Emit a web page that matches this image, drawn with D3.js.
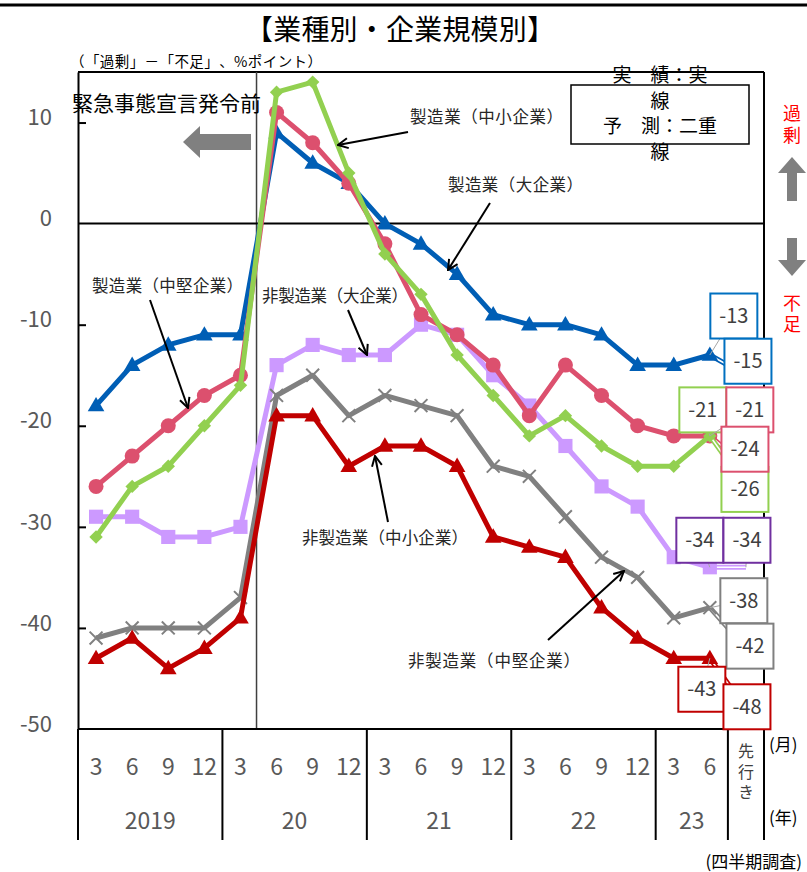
<!DOCTYPE html>
<html lang="ja">
<head>
<meta charset="utf-8">
<script src="https://cdn.jsdelivr.net/npm/d3@7/dist/d3.min.js"></script>
<style>
  html, body { margin: 0; padding: 0; background: #fff; }
  svg { display: block; font-family: "Noto Sans CJK JP", "Noto Sans", sans-serif; }
  svg text { text-spacing-trim: space-all; }
  .vert { writing-mode: vertical-rl; text-orientation: upright; }
</style>
</head>
<body>
<svg id="chart" width="807" height="872"></svg>
<script>
// 四半期（実績18期＋先行き）
const months = ["3","6","9","12","3","6","9","12","3","6","9","12","3","6","9","12","3","6"];
const quarters = months.map((m, i) => "q" + i).concat(["f"]);
const years = ["2019", "20", "21", "22", "23"];
const yearQuarters = [4, 4, 4, 4, 2];
const yTicks = [10, 0, -10, -20, -30, -40, -50];

// 業況判断DI（「過剰」－「不足」、%ポイント）：実績18期、最後は先行き
const mfgLarge    = [-18, -14, -12, -11, -11,   9,   6,   4,   0,  -2,  -5,  -9, -10, -10, -11, -14, -14, -13];
const mfgMid      = [-26, -23, -20, -17, -15,  11,   8,   4,  -2,  -9, -11, -14, -19, -14, -17, -20, -21, -21];
const mfgSmall    = [-31, -26, -24, -20, -16,  13,  14,   5,  -3,  -7, -13, -17, -21, -19, -22, -24, -24, -21];
const nonMfgLarge = [-29, -29, -31, -31, -30, -14, -12, -13, -13, -10, -11, -15, -18, -22, -26, -28, -33, -34];
const nonMfgMid   = [-41, -40, -40, -40, -37, -17, -15, -19, -17, -18, -19, -24, -25, -29, -33, -35, -39, -38];
const nonMfgSmall = [-43, -41, -44, -42, -39, -19, -19, -24, -22, -22, -24, -31, -32, -33, -38, -41, -43, -43];
const forecasts = { mfgLarge: -15, mfgMid: -24, mfgSmall: -26, nonMfgLarge: -34, nonMfgMid: -42, nonMfgSmall: -48 };

// 系列の描画スタイル（下から順に描く）。aBox/fBox は値ラベルの点からのずらし量
const series = [
  { key: "nonMfgLarge", values: nonMfgLarge, color: "#CC99FF", box: "#7030A0", marker: "square",
    aBox: [-10, -27], fBox: [1, -27] },
  { key: "nonMfgMid", values: nonMfgMid, color: "#808080", box: "#808080", marker: "cross",
    aBox: [34, -7], fBox: [4, -2] },
  { key: "nonMfgSmall", values: nonMfgSmall, color: "#C00000", box: "#C00000", marker: "triangle",
    aBox: [-8, 31], fBox: [1, -2] },
  { key: "mfgLarge", values: mfgLarge, color: "#005EB5", box: "#0070C0", marker: "triangle",
    aBox: [24, -39], fBox: [2, -14] },
  { key: "mfgMid", values: mfgMid, color: "#DC506E", box: "#DC506E", marker: "circle",
    aBox: [40, -26], fBox: [-1, -17] },
  { key: "mfgSmall", values: mfgSmall, color: "#92D050", box: "#92D050", marker: "diamond",
    aBox: [-7, -26], fBox: [-1, 3] }
];

const svg = d3.select("#chart");
const plotLeft = 78, plotRight = 764, plotTop = 72, plotBottom = 729;

const x = d3.scaleBand().domain(quarters).range([plotLeft, plotRight]).paddingInner(0).paddingOuter(0);
const cx = q => x(q) + x.bandwidth() / 2;
const y = d3.scaleLinear().domain([-50, 15]).range([plotBottom, plotTop]);

// 外枠上端の線
svg.append("line").attr("x1", 0).attr("x2", 807).attr("y1", 5).attr("y2", 5)
  .attr("stroke", "#000").attr("stroke-width", 3);

// タイトル
svg.append("text").attr("x", 400).attr("y", 40).attr("text-anchor", "middle")
  .attr("font-size", 28).attr("textLength", 310).attr("lengthAdjust", "spacing")
  .attr("fill", "#000").text("【業種別・企業規模別】");
svg.append("text").attr("x", 70).attr("y", 67).attr("font-size", 14.5)
  .attr("textLength", 252).attr("lengthAdjust", "spacing").attr("fill", "#000")
  .text("（「過剰」－「不足」、%ポイント）");

// プロット枠
svg.append("line").attr("x1", plotLeft).attr("x2", plotRight).attr("y1", plotTop).attr("y2", plotTop)
  .attr("stroke", "#000").attr("stroke-width", 2);
svg.append("line").attr("x1", plotRight).attr("x2", plotRight).attr("y1", plotTop).attr("y2", 840)
  .attr("stroke", "#000").attr("stroke-width", 2);

// 緊急事態宣言の区切り線
const emergencyX = (cx("q4") + cx("q5")) / 2 - 2;
svg.append("line").attr("x1", emergencyX).attr("x2", emergencyX).attr("y1", plotTop).attr("y2", plotBottom)
  .attr("stroke", "#404040").attr("stroke-width", 1.5);

// 0 の基準線
svg.append("line").attr("x1", plotLeft).attr("x2", plotRight).attr("y1", y(0)).attr("y2", y(0))
  .attr("stroke", "#000").attr("stroke-width", 2);

// Y 軸
const yAxis = d3.axisLeft(y).tickValues(yTicks).tickSize(-8).tickSizeOuter(0).tickPadding(26)
  .tickFormat(d => String(d));
const yg = svg.append("g").attr("transform", `translate(${plotLeft},0)`).call(yAxis);
yg.select(".domain").attr("stroke", "#000").attr("stroke-width", 2);
yg.selectAll(".tick line").attr("stroke", "#000").attr("stroke-width", 2);
yg.selectAll(".tick text").attr("font-size", 22).attr("fill", "#595959")
  .attr("font-family", "'Noto Sans CJK JP', sans-serif").attr("dy", "0.1em");
yg.selectAll(".tick").filter(d => d === 0 || d === -50).select("line").remove();

// X 軸（下端）
svg.append("line").attr("x1", plotLeft).attr("x2", plotRight).attr("y1", plotBottom).attr("y2", plotBottom)
  .attr("stroke", "#000").attr("stroke-width", 2);

// 月ラベル
svg.append("g").selectAll("text").data(months).join("text")
  .attr("x", (d, i) => cx(quarters[i])).attr("y", 775).attr("text-anchor", "middle")
  .attr("font-size", 23).attr("fill", "#595959").text(d => d);

// 年の区切りと年ラベル
let idx = 0;
const dividers = [x(quarters[0])];
const yearCenters = [];
yearQuarters.forEach(n => {
  const x0 = x(quarters[idx]);
  const x1 = x(quarters[idx + n - 1]) + x.bandwidth();
  yearCenters.push((x0 + x1) / 2);
  dividers.push(x1);
  idx += n;
});
dividers.push(plotRight);
svg.append("g").selectAll("line").data(dividers).join("line")
  .attr("x1", d => d).attr("x2", d => d).attr("y1", plotBottom).attr("y2", 840)
  .attr("stroke", "#000").attr("stroke-width", 2);
svg.append("g").selectAll("text").data(years).join("text")
  .attr("x", (d, i) => yearCenters[i]).attr("y", 829).attr("text-anchor", "middle")
  .attr("font-size", 23).attr("fill", "#595959").text(d => d);

// 先行き（縦書き）
svg.append("text").attr("class", "vert").attr("x", cx("f")).attr("y", 743)
  .attr("font-size", 16).attr("letter-spacing", 4.5).attr("fill", "#404040").text("先行き");

svg.append("text").attr("x", 769).attr("y", 751).attr("font-size", 17).attr("fill", "#000").text("(月)");
svg.append("text").attr("x", 769).attr("y", 824).attr("font-size", 17).attr("fill", "#000").text("(年)");
svg.append("text").attr("x", 802).attr("y", 868).attr("text-anchor", "end").attr("font-size", 17)
  .attr("fill", "#000").text("(四半期調査)");

// 緊急事態宣言発令前
svg.append("text").attr("x", 72).attr("y", 111).attr("font-size", 21).attr("fill", "#000")
  .text("緊急事態宣言発令前");
svg.append("path")
  .attr("d", "M183,142 L200,126 L200,134 L251,134 L251,150 L200,150 L200,158 Z")
  .attr("fill", "#808080");

// 凡例（実績・予測）
svg.append("rect").attr("x", 571).attr("y", 85).attr("width", 178).attr("height", 59)
  .attr("fill", "#fff").attr("stroke", "#000").attr("stroke-width", 1.5);
const legendLines = ["実　績：実", "線", "予　測：二重", "線"];
svg.append("g").selectAll("text").data(legendLines).join("text")
  .attr("x", 660).attr("y", (d, i) => 82 + i * 25.7).attr("text-anchor", "middle")
  .attr("font-size", 19).attr("fill", "#000").text(d => d);

// 右側の「過剰」「不足」（縦書き）
svg.append("text").attr("class", "vert").attr("x", 792).attr("y", 104)
  .attr("font-size", 18).attr("letter-spacing", 4).attr("fill", "#FF0000").text("過剰");
svg.append("text").attr("class", "vert").attr("x", 792).attr("y", 294)
  .attr("font-size", 18).attr("letter-spacing", 3).attr("fill", "#FF0000").text("不足");
svg.append("path").attr("d", "M792,157 L806,173 L797,173 L797,201 L787,201 L787,173 L778,173 Z")
  .attr("fill", "#808080");
svg.append("path").attr("d", "M787,238 L797,238 L797,260 L806,260 L792,276 L778,260 L787,260 Z")
  .attr("fill", "#808080");

// 矢印マーカー
svg.append("defs").append("marker").attr("id", "arrow")
  .attr("viewBox", "0 0 12 12").attr("refX", 11).attr("refY", 6)
  .attr("markerWidth", 12).attr("markerHeight", 12).attr("markerUnits", "userSpaceOnUse")
  .attr("orient", "auto")
  .append("path").attr("d", "M1,1 L11,6 L1,11").attr("fill", "none")
  .attr("stroke", "#000").attr("stroke-width", 2);

// 系列の線
const line = d3.line().x((d, i) => cx(quarters[i])).y(d => y(d));
const lastQ = quarters[months.length - 1];

series.forEach(s => {
  const g = svg.append("g");
  // 予測：二重線
  const fx1 = cx(lastQ), fy1 = y(s.values[s.values.length - 1]);
  const fx2 = cx("f"), fy2 = y(forecasts[s.key]);
  g.append("line").attr("x1", fx1).attr("y1", fy1).attr("x2", fx2).attr("y2", fy2)
    .attr("stroke", s.color).attr("stroke-width", 5);
  g.append("line").attr("x1", fx1).attr("y1", fy1).attr("x2", fx2).attr("y2", fy2)
    .attr("stroke", "#fff").attr("stroke-width", 1.6);
  // 実績：実線
  g.append("path").datum(s.values).attr("d", line).attr("fill", "none")
    .attr("stroke", s.color).attr("stroke-width", 5).attr("stroke-linejoin", "round");
  // マーカー
  const pts = g.append("g").selectAll("g").data(s.values).join("g")
    .attr("transform", (d, i) => `translate(${cx(quarters[i])},${y(d)})`);
  if (s.marker === "circle") {
    pts.append("circle").attr("r", 7.5).attr("fill", s.color);
  } else if (s.marker === "triangle") {
    pts.append("path").attr("d", d3.symbol(d3.symbolTriangle, 120)()).attr("fill", s.color)
      .attr("transform", "translate(0,1)");
  } else if (s.marker === "square") {
    pts.append("path").attr("d", d3.symbol(d3.symbolSquare, 200)()).attr("fill", s.color);
  } else if (s.marker === "diamond") {
    pts.append("path").attr("d", d3.symbol(d3.symbolSquare, 90)()).attr("fill", s.color)
      .attr("transform", "rotate(45)");
  } else if (s.marker === "cross") {
    pts.append("path").attr("d", d3.symbol(d3.symbolX, 110)()).attr("fill", "none")
      .attr("stroke", s.color).attr("stroke-width", 2);
  }
});

// 系列名の注記と矢印
const notes = [
  { text: "製造業（中小企業）", tx: 410, ty: 123, w: 153, from: [408, 132], to: [338, 145] },
  { text: "製造業（大企業）", tx: 448, ty: 191, w: 135, from: [490, 203], to: [448, 270] },
  { text: "製造業（中堅企業）", tx: 92, ty: 292, w: 151, from: [150, 300], to: [188, 408] },
  { text: "非製造業（大企業）", tx: 262, ty: 302, w: 146, from: [348, 310], to: [367, 355] },
  { text: "非製造業（中小企業）", tx: 302, ty: 544, w: 166, from: [388, 522], to: [375, 456] },
  { text: "非製造業（中堅企業）", tx: 408, ty: 667, w: 172, from: [548, 640], to: [624, 571] }
];
notes.forEach(n => {
  svg.append("line").attr("x1", n.from[0]).attr("y1", n.from[1]).attr("x2", n.to[0]).attr("y2", n.to[1])
    .attr("stroke", "#000").attr("stroke-width", 2).attr("marker-end", "url(#arrow)");
  svg.append("text").attr("x", n.tx).attr("y", n.ty).attr("font-size", 16.5)
    .attr("textLength", n.w).attr("lengthAdjust", "spacing").attr("fill", "#262626")
    .text(n.text);
});

// 実績・予測の値ラベル
const boxW = 47, boxH = 45;
function valueBox(px, py, off, value, color) {
  const bx = px + off[0], by = py + off[1];
  svg.append("line").attr("x1", px).attr("y1", py).attr("x2", bx).attr("y2", by)
    .attr("stroke", "#A6A6A6").attr("stroke-width", 1);
  svg.append("rect").attr("x", bx - boxW / 2).attr("y", by - boxH / 2)
    .attr("width", boxW).attr("height", boxH).attr("fill", "#fff")
    .attr("stroke", color).attr("stroke-width", 2);
  svg.append("text").attr("x", bx).attr("y", by + 7).attr("text-anchor", "middle")
    .attr("font-size", 20).attr("fill", "#404040").text(value);
}
// 値ラベルの重なり順
const labelOrder = ["mfgLarge", "nonMfgLarge", "nonMfgMid", "nonMfgSmall", "mfgSmall", "mfgMid"];
const byKey = Object.fromEntries(series.map(s => [s.key, s]));
labelOrder.forEach(k => {
  const s = byKey[k];
  const v = s.values[s.values.length - 1];
  valueBox(cx(lastQ), y(v), s.aBox, v, s.box);
  valueBox(cx("f"), y(forecasts[k]), s.fBox, forecasts[k], s.box);
});
</script>
</body>
</html>
